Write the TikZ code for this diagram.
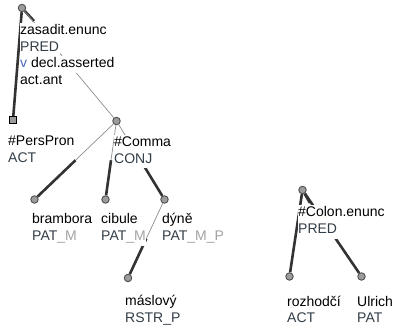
\documentclass[tikz,border=0pt]{standalone}
\usepackage{fontspec}
\setmainfont{Liberation Sans}
\usetikzlibrary{calc,backgrounds}
\definecolor{func}{HTML}{333E48}
\definecolor{subf}{HTML}{A3A3A3}
\definecolor{gram}{HTML}{4A66C8}
\definecolor{ndfill}{HTML}{9C9C9C}
\definecolor{ndline}{HTML}{505050}
\definecolor{thinline}{HTML}{8E8E8E}
\newcommand{\sfx}[1]{\textcolor{subf}{#1}}

\begin{document}
\begin{tikzpicture}[x=1pt, y=-1pt,
    tnode/.style={circle, draw=ndline, fill=ndfill, line width=0.9pt, minimum size=7.5pt, inner sep=0pt},
    tsquare/.style={rectangle, draw=black, fill=ndfill, line width=0.9pt, minimum size=7pt, inner sep=0pt},
    lbl/.style={anchor=base west, fill=white, inner sep=0.7pt, text height=11pt, text depth=4pt,
      font=\fontsize{14}{17}\selectfont},
    fn/.style={lbl, text=func},
    thk/.style={draw=black!80, line width=2.6pt},
    thn/.style={draw=thinline, line width=0.7pt}]
  \useasboundingbox (0,0) rectangle (397,326);

  \node[tnode] (zas) at (22,8) {};
  \node[tsquare] (pers) at (13,120) {};
  \node[tnode] (comma) at (116.5,121) {};
  \node[tnode] (bramb) at (34.5,199.5) {};
  \node[tnode] (cib) at (105.5,199.5) {};
  \node[tnode] (dyne) at (164.5,199.5) {};
  \node[tnode] (masl) at (128,278) {};
  \node[tnode] (colon) at (302.5,190) {};
  \node[tnode] (rozh) at (289.5,276.5) {};
  \node[tnode] (ulr) at (361.5,276.5) {};
  \coordinate (zas-stub) at (34,21);
  \coordinate (colon-stub) at (310,203);

  \node[lbl] (zas-t) at (19.3,35) {zasadit.enunc};
  \node[fn] (zas-f) at (19.3,51.5) {PRED};
  \node[lbl] (zas-g) at (19.3,68) {\textcolor{gram}{v} decl.asserted};
  \node[lbl] (zas-a) at (19.3,84.5) {act.ant};
  \node[lbl] (pers-t) at (7.3,146) {\#PersPron};
  \node[fn] (pers-f) at (7.3,163) {ACT};
  \node[lbl] (comma-t) at (113.3,147) {\#Comma};
  \node[fn] (comma-f) at (113.3,163.5) {CONJ};
  \node[lbl] (bramb-t) at (31.3,224) {brambora};
  \node[fn] (bramb-f) at (31.3,241) {PAT\sfx{\_M}};
  \node[lbl] (cib-t) at (100.3,224) {cibule};
  \node[fn] (cib-f) at (100.3,241) {PAT\sfx{\_M}};
  \node[lbl] (dyne-t) at (161.3,224) {dýně};
  \node[fn] (dyne-f) at (161.3,241) {PAT\sfx{\_M\_P}};
  \node[lbl] (masl-t) at (124.3,306) {máslový};
  \node[fn] (masl-f) at (124.3,323) {RSTR\_P};
  \node[lbl] (colon-t) at (297.3,217) {\#Colon.enunc};
  \node[fn] (colon-f) at (297.3,234) {PRED};
  \node[lbl] (rozh-t) at (286.3,307) {rozhodčí};
  \node[fn] (rozh-f) at (286.3,323) {ACT};
  \node[lbl] (ulr-t) at (356.3,307) {Ulrich};
  \node[fn] (ulr-f) at (356.3,323) {PAT};

  \begin{scope}[on background layer]
    \draw[thk] (zas) -- (zas-stub);
    \draw[thk] (zas) -- (pers);
    \draw[thn] (zas) -- (comma);
    \draw[thn] (comma) -- ($(comma)!.5!(bramb)$);
    \draw[thk] ($(comma)!.5!(bramb)$) -- (bramb);
    \draw[thn] (comma) -- ($(comma)!.5!(cib)$);
    \draw[thk] ($(comma)!.5!(cib)$) -- (cib);
    \draw[thn] (comma) -- ($(comma)!.5!(dyne)$);
    \draw[thk] ($(comma)!.5!(dyne)$) -- (dyne);
    \draw[thn] (dyne) -- ($(dyne)!.5!(masl)$);
    \draw[thk] ($(dyne)!.5!(masl)$) -- (masl);
    \draw[thk] (colon) -- (colon-stub);
    \draw[thk] (colon) -- (rozh);
    \draw[thk] (colon) -- (ulr);
  \end{scope}
\end{tikzpicture}
\end{document}
